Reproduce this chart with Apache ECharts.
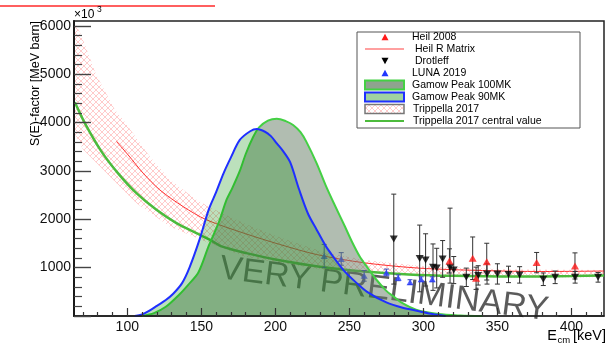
<!DOCTYPE html>
<html>
<head>
<meta charset="utf-8">
<script src="https://cdn.jsdelivr.net/npm/echarts@6.0.0/dist/echarts.min.js"></script>
<style>
  html, body { margin: 0; padding: 0; background: #fff; }
  #chart { width: 611px; height: 344px; }
</style>
</head>
<body>
<div id="chart"></div>
<script>
// ---- data: 13C(a,n)16O astrophysical S-factor, E in keV, S in 10^3 MeV barn ----
const xMajorTicks = [100, 150, 200, 250, 300, 350, 400];
const yMajorTicks = [0, 1000, 2000, 3000, 4000, 5000, 6000];
const yTickLabels = [1000, 2000, 3000, 4000, 5000, 6000];

// Trippella 2017 (THM) central value and uncertainty band
const trippellaCentral = [[64.6,4420],[71.3,3990],[82.6,3400],[93.8,2950],[106.2,2540],[119.7,2195],[133.2,1920],[146.7,1712],[157.9,1540],[163.6,1440],[180.4,1300],[200,1170],[230,1020],[260,920],[290,860],[320,830],[360,815],[400,825],[422,840]];
const trippellaUpper = [[64,6100],[69,5800],[79,4990],[91.6,4265],[97.2,4058],[115.2,3298],[128.7,2816],[146.7,2402],[157,2230],[180,1900],[200,1660],[230,1350],[260,1160],[300,1030],[360,960],[422,950]];
const trippellaLower = [[64,3800],[70,3450],[83.7,3023],[106.2,2333],[128.7,1849],[151,1560],[180,1220],[230,960],[300,830],[360,790],[422,800]];

// Heil R-matrix fit
const heilRMatrix = [[92.7,3609],[100.5,3333],[110.7,2954],[121.9,2609],[137.7,2263],[153.4,1990],[180,1700],[203,1480],[228,1270],[260,1100],[297,990],[340,940],[380,920],[422,930]];

// Gamow windows (arbitrary scale)
const gamow90 = [[105,0],[110,30],[115,110],[120,210],[126,330],[131,460],[137,680],[142,1000],[149,1600],[155,2200],[160,2560],[165,2950],[170,3280],[176,3640],[183,3820],[187.5,3865],[193,3810],[197,3720],[201,3570],[205,3420],[210,3180],[216,2620],[222,2120],[228,1780],[234,1450],[239,1230],[246,950],[255,680],[262,500],[275,280],[286,170],[297,100],[306,40],[315,0]];
const gamow100 = [[110,0],[118,60],[126,190],[135,440],[141,640],[148,900],[155,1450],[162,1950],[167,2400],[171,2650],[176,3000],[180,3350],[185,3700],[189,3900],[195,4040],[201,4080],[207,4030],[212,3950],[217,3800],[221,3600],[228,3150],[234,2700],[240,2300],[247,1850],[252,1520],[257,1230],[262,1010],[268,760],[275,520],[280,400],[285,280],[295,130],[310,40],[325,10],[340,0]];

// measurements: [E, S, error low, error high]
const heil2008 = [[317.6,1139,250,250],[333.3,1194,440,440],[335.6,780,230,230],[342.8,1124,380,380],[376.5,1104,210,210],[402.4,1035,270,270]];
const drotleff = [[280,1590,930,930],[297.5,1190,690,690],[301.5,1160,540,540],[306.5,1010,480,480],[309,990,410,410],[313,1180,380,380],[318,1010,330,1220],[320.5,950,280,280],[329,800,190,190],[337,840,200,200],[343,870,210,210],[350,870,210,210],[357.5,860,170,170],[365,850,170,170],[381,760,130,130],[389,800,130,130],[402.5,800,120,120],[418,800,100,100]];
const luna2019 = [[233,1240,240,240],[244.5,1180,130,130],[260,830,110,110],[275,900,70,70],[283,790,60,60],[291,700,50,50],[298.5,760,50,50],[306,760,50,50]];

// ---- helpers ----
const FONT = '"Liberation Sans", Arial, Helvetica, sans-serif';
const X_MIN = 64, X_MAX = 422, Y_MIN = 0, Y_MAX = 6100;

const xMinorTicks = [];
for (let v = 70; v <= 420; v += 10) if (v % 50 !== 0) xMinorTicks.push(v);
const yMinorTicks = [];
for (let v = 200; v <= 6000; v += 200) if (v % 1000 !== 0) yMinorTicks.push(v);

// pink cross-hatch fill
function makeHatch() {
  const s = 6;
  const c = document.createElement('canvas');
  c.width = s; c.height = s;
  const g = c.getContext('2d');
  g.strokeStyle = 'rgba(255,140,140,0.5)';
  g.lineWidth = 0.9;
  g.beginPath();
  g.moveTo(0, 0); g.lineTo(s, s);
  g.moveTo(0, s); g.lineTo(s, 0);
  g.stroke();
  return { image: c, repeat: 'repeat' };
}
const hatch = makeHatch();

function errorBars(color) {
  return function (params, api) {
    const x = api.value(0), y = api.value(1), lo = api.value(2), hi = api.value(3);
    const top = api.coord([x, y + hi]);
    const bot = api.coord([x, y - lo]);
    const w = 2.5;
    const st = { stroke: color, lineWidth: 1 };
    return {
      type: 'group',
      children: [
        { type: 'line', shape: { x1: top[0], y1: top[1], x2: bot[0], y2: bot[1] }, style: st },
        { type: 'line', shape: { x1: top[0] - w, y1: top[1], x2: top[0] + w, y2: top[1] }, style: st },
        { type: 'line', shape: { x1: bot[0] - w, y1: bot[1], x2: bot[0] + w, y2: bot[1] }, style: st }
      ]
    };
  };
}

function tri(cx, cy, size, down) {
  const h = size * 0.9, w = size / 2;
  return down
    ? [[cx - w, cy - h / 2], [cx + w, cy - h / 2], [cx, cy + h / 2]]
    : [[cx - w, cy + h / 2], [cx + w, cy + h / 2], [cx, cy - h / 2]];
}

// ---- legend (drawn as a ROOT-style box) ----
const LX = 357, LY = 32, LW = 223, LH = 96;
const rowY = i => 37 + 12 * i;
const symX = 385;
const legendText = (txt, x, i) => ({
  type: 'text', x: x, y: rowY(i),
  style: { text: txt, font: '10.5px ' + FONT, fill: '#000', verticalAlign: 'middle', align: 'left' }
});
const legend = [
  { type: 'rect', shape: { x: LX, y: LY, width: LW, height: LH }, style: { fill: '#fff', stroke: '#555', lineWidth: 1 } },
  { type: 'polygon', shape: { points: tri(symX, rowY(0), 7, false) }, style: { fill: '#ff1a1a' } },
  legendText('Heil 2008', 412, 0),
  { type: 'line', shape: { x1: 365, y1: rowY(1), x2: 404, y2: rowY(1) }, style: { stroke: '#ff8080', lineWidth: 1.5 } },
  legendText('Heil R Matrix', 415, 1),
  { type: 'polygon', shape: { points: tri(symX, rowY(2), 7, true) }, style: { fill: '#000' } },
  legendText('Drotleff', 415, 2),
  { type: 'polygon', shape: { points: tri(symX, rowY(3), 7, false) }, style: { fill: '#1f35ff' } },
  legendText('LUNA 2019', 412, 3),
  { type: 'rect', shape: { x: 365, y: rowY(4) - 4.5, width: 39, height: 9 }, style: { fill: '#8fa38f', stroke: '#44d044', lineWidth: 2 } },
  legendText('Gamow Peak 100MK', 412, 4),
  { type: 'rect', shape: { x: 365, y: rowY(5) - 4.5, width: 39, height: 9 }, style: { fill: '#a0d3a0', stroke: '#1f2fff', lineWidth: 2 } },
  legendText('Gamow Peak 90MK', 412, 5),
  { type: 'rect', shape: { x: 365, y: rowY(6) - 4.5, width: 39, height: 9 }, style: { fill: hatch, stroke: '#777', lineWidth: 1.5 } },
  legendText('Trippella 2017', 413, 6),
  { type: 'line', shape: { x1: 365, y1: rowY(7), x2: 404, y2: rowY(7) }, style: { stroke: '#4cbb3c', lineWidth: 2 } },
  legendText('Trippella 2017 central value', 413, 7)
];

// ---- titles and decorations ----
const titles = [
  { type: 'line', shape: { x1: 0, y1: 6, x2: 215, y2: 6 }, style: { stroke: '#ff2a2a', lineWidth: 1.5 } },
  { type: 'text', x: 36, y: 21, rotation: Math.PI / 2,
    style: { text: 'S(E)-factor [MeV barn]', font: '12.5px ' + FONT, fill: '#000', align: 'right', verticalAlign: 'middle' } },
  { type: 'text', x: 74, y: 15, style: { text: '×10', font: '12px ' + FONT, fill: '#000', verticalAlign: 'middle' } },
  { type: 'text', x: 97, y: 10, style: { text: '3', font: '8.5px ' + FONT, fill: '#000', verticalAlign: 'middle' } },
  { type: 'text', x: 557, y: 336, style: { text: 'E', font: '14.5px ' + FONT, fill: '#000', align: 'right', verticalAlign: 'middle' } },
  { type: 'text', x: 557.5, y: 340, style: { text: 'cm', font: '9.5px ' + FONT, fill: '#000', align: 'left', verticalAlign: 'middle' } },
  { type: 'text', x: 606, y: 336, style: { text: '[keV]', font: '14.5px ' + FONT, fill: '#000', align: 'right', verticalAlign: 'middle' } }
];

// watermark
const watermark = {
  type: 'group', x: 219.5, y: 246.5, rotation: -7.3 * Math.PI / 180, z: 20,
  children: [
    { type: 'rect', shape: { x: 0, y: 0, width: 345, height: 42 }, style: { fill: 'rgba(255,255,255,0.45)' } },
    { type: 'text', x: 3, y: 22, style: { text: 'VERY PRELIMINARY', font: '34px ' + FONT, fill: 'rgba(45,45,45,0.78)', verticalAlign: 'middle', align: 'left' } }
  ]
};

const axisCommon = { type: 'value', splitLine: { show: false }, z: 10 };
const plainNumber = v => String(v);

const chart = echarts.init(document.getElementById('chart'), null, { renderer: 'canvas' });
chart.setOption({
  animation: false,
  backgroundColor: '#fff',
  grid: { left: 74, right: 7, top: 21, bottom: 28, show: true, borderColor: '#222', borderWidth: 1.5, backgroundColor: 'transparent', outerBoundsMode: 'none', containLabel: false },
  xAxis: [
    Object.assign({}, axisCommon, {
      min: X_MIN, max: X_MAX, position: 'bottom',
      axisLine: { show: true, onZero: false, lineStyle: { color: '#1a1a1a', width: 1.5 } },
      axisTick: { show: true, inside: true, length: 8, customValues: xMajorTicks, lineStyle: { color: '#333', width: 1.2 } },
      axisLabel: { show: true, customValues: xMajorTicks, formatter: plainNumber, margin: 4, fontSize: 14, color: '#111', fontFamily: FONT }
    }),
    Object.assign({}, axisCommon, {
      min: X_MIN, max: X_MAX, position: 'bottom',
      axisLine: { show: false },
      axisTick: { show: true, inside: true, length: 4, customValues: xMinorTicks, lineStyle: { color: '#333', width: 1.2 } },
      axisLabel: { show: false }
    })
  ],
  yAxis: [
    Object.assign({}, axisCommon, {
      min: Y_MIN, max: Y_MAX, position: 'left',
      axisLine: { show: true, onZero: false, lineStyle: { color: '#1a1a1a', width: 2 } },
      axisTick: { show: true, inside: true, length: 17, customValues: yMajorTicks, lineStyle: { color: '#444', width: 1.4 } },
      axisLabel: { show: true, customValues: yTickLabels, formatter: plainNumber, margin: 3, fontSize: 14, color: '#111', fontFamily: FONT }
    }),
    Object.assign({}, axisCommon, {
      min: Y_MIN, max: Y_MAX, position: 'left',
      axisLine: { show: false },
      axisTick: { show: true, inside: true, length: 8, customValues: yMinorTicks, lineStyle: { color: '#444', width: 1.2 } },
      axisLabel: { show: false }
    })
  ],
  graphic: legend.concat(titles).map(e => Object.assign({ z: 30 }, e)).concat([watermark]),
  series: [
    {
      name: 'Trippella 2017', type: 'custom', z: 1, clip: true,
      data: trippellaUpper,
      renderItem: function (params, api) {
        if (params.dataIndex !== 0) return null;
        const pts = trippellaUpper.map(p => api.coord(p))
          .concat(trippellaLower.slice().reverse().map(p => api.coord(p)));
        return { type: 'polygon', shape: { points: pts }, style: { fill: hatch } };
      }
    },
    {
      name: 'Heil R Matrix', type: 'line', z: 2, data: heilRMatrix, showSymbol: false, smooth: 0.3,
      lineStyle: { color: '#ff3030', width: 1 }
    },
    {
      name: 'Trippella 2017 central value', type: 'line', z: 2, data: trippellaCentral, showSymbol: false, smooth: 0.3,
      lineStyle: { color: '#4cbb3c', width: 2.5 }
    },
    { name: 'Drotleff err', type: 'custom', z: 3, data: drotleff, encode: { x: 0, y: 1 }, renderItem: errorBars('#333') },
    { name: 'Heil 2008 err', type: 'custom', z: 3, data: heil2008, encode: { x: 0, y: 1 }, renderItem: errorBars('#333') },
    { name: 'LUNA 2019 err', type: 'custom', z: 3, data: luna2019, encode: { x: 0, y: 1 }, renderItem: errorBars('#3a4ab0') },
    {
      name: 'Drotleff', type: 'scatter', z: 3, symbol: 'triangle', symbolRotate: 180, symbolSize: [8, 7],
      data: drotleff.map(d => [d[0], d[1]]), itemStyle: { color: '#000' }
    },
    {
      name: 'Heil 2008', type: 'scatter', z: 3, symbol: 'triangle', symbolSize: [8, 7],
      data: heil2008.map(d => [d[0], d[1]]), itemStyle: { color: '#ff1a1a' }
    },
    {
      name: 'LUNA 2019', type: 'scatter', z: 3, symbol: 'triangle', symbolSize: [7, 6],
      data: luna2019.map(d => [d[0], d[1]]), itemStyle: { color: '#2a3cff' }
    },
    {
      name: 'Gamow Peak 100MK', type: 'line', z: 4, data: gamow100, showSymbol: false, smooth: 0.3,
      lineStyle: { color: '#44d044', width: 2 },
      areaStyle: { color: 'rgba(100,125,100,0.72)' }
    },
    {
      name: 'Gamow Peak 90MK', type: 'line', z: 5, data: gamow90, showSymbol: false, smooth: 0.3,
      lineStyle: { color: '#1f2fff', width: 2 },
      areaStyle: { color: 'rgba(5,140,5,0.38)' }
    }
  ]
});
</script>
</body>
</html>
